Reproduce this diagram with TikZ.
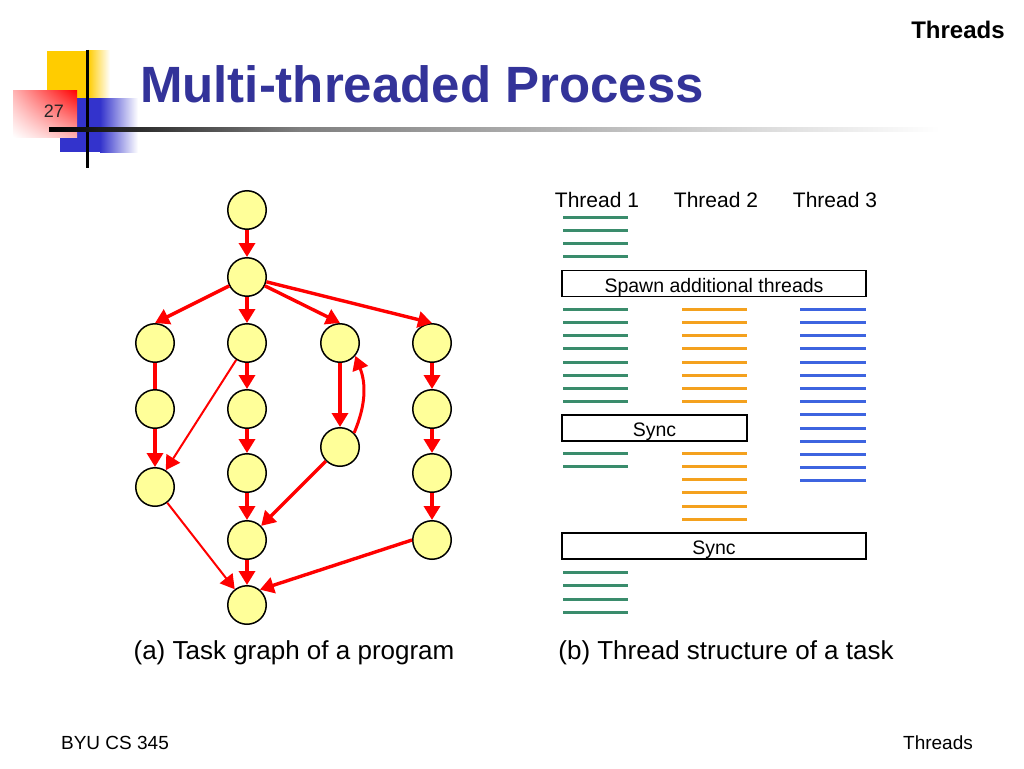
\documentclass[tikz,border=0pt]{standalone}
\usepackage{fontspec}
\setmainfont{Liberation Sans}
\usetikzlibrary{arrows.meta,positioning,shadings}
\definecolor{ttlblue}{HTML}{333399}
\definecolor{decyel}{HTML}{FFCC00}
\definecolor{decblue}{HTML}{3333CC}
\definecolor{taskyel}{HTML}{FFFF99}
\definecolor{depred}{HTML}{FF0000}
\definecolor{tgreen}{HTML}{3A8C6C}
\definecolor{torange}{HTML}{F4A11E}
\definecolor{tblue}{HTML}{3D64E0}
\newcommand{\fsz}[1]{\fontsize{#1}{#1}\selectfont}
\tikzset{
  task/.style={circle,draw=black,line width=1.5pt,fill=taskyel,minimum size=38.5pt,inner sep=0pt},
  dep/.style={-{Triangle[length=14pt,width=16pt]},line width=3.4pt,draw=depred},
  thindep/.style={dep,line width=2pt},
  plainred/.style={line width=3.4pt,draw=depred},
  tline/.style={line width=3pt},
  barbox/.style={draw=black,line width=1.5pt,inner sep=0pt,text height=21.5pt,text depth=4.5pt,
    font=\fsz{19.5}},
  hdr/.style={font=\fsz{21}},
  capt/.style={font=\fsz{26}},
  foot/.style={font=\fsz{19}},
}

\begin{document}
\begin{tikzpicture}[x=1pt,y=-1pt]
  \useasboundingbox (0,0) rectangle (1024,768);
  % slide decoration
  \fill[decyel] (47,51) rectangle (88,98);
  \shade[left color=decyel,right color=white] (88,51) rectangle (110,98);
  \fill[decblue] (60,98) rectangle (100,152);
  \shade[left color=decblue,right color=white] (100,98) rectangle (138,152);
  \shade[upper left=red!30!white,upper right=red,lower left=white,lower right=red!30!white]
    (13,90) rectangle (77,137);
  \draw[line width=3pt] (87,50) -- (87,168);
  \shade[left color=black,right color=black!50] (49,127) rectangle (300,131);
  \shade[left color=black!50,right color=white] (300,127) rectangle (940,131);
  \node[font=\fsz{18},text=black!85] (pgno) at (54,111) {27};
  \node[font=\bfseries\fsz{51},text=ttlblue] (title) at (422,84) {Multi-threaded Process};
  \node[font=\bfseries\fsz{24}] (sect) at (958,30) {Threads};
  \node[foot] (ftl) at (115,743) {BYU CS 345};
  \node[foot] (ftr) at (938,743) {Threads};

  % (a) task graph
  \foreach \nm/\x/\y in {top/247/210, fork/247/277,
      c1r1/155/343, c1r2/155/409, c1r3/155/487,
      c2r1/247/343, c2r2/247/409, c2r3/247/473, c2r4/247/540,
      c3r1/340/343, c3r2/340/447,
      c4r1/432/343, c4r2/432/409, c4r3/432/473, c4r4/432/540, join/247/605}
    \node[task] (\nm) at (\x,\y) {};
  \draw[dep] (top) -- (fork);
  \foreach \tg in {c1r1,c2r1,c3r1,c4r1}
    \draw[dep] (fork) -- (\tg.north);
  \draw[plainred] (c1r1) -- (c1r2);
  \draw[dep] (c1r2) -- (c1r3);
  \draw[thindep] (c2r1) -- (c1r3);
  \foreach \src/\tg in {c2r1/c2r2, c2r2/c2r3, c2r3/c2r4, c2r4/join, c3r1/c3r2,
      c4r1/c4r2, c4r2/c4r3, c4r3/c4r4}
    \draw[dep] (\src) -- (\tg);
  \draw[dep] (c3r2) -- (c2r4);
  \draw[dep,line width=3pt] (c3r2.45) to[bend right=22] (c3r1.-40);
  \draw[thindep] (c1r3) -- (join);
  \draw[dep] (c4r4.west) -- (join.50);
  \node[capt] (capa) at (294,653) {(a) Task graph of a program};

  % (b) thread structure
  \node[hdr] (th1) at (597,200) {Thread 1};
  \node[hdr] (th2) at (716,200) {Thread 2};
  \node[hdr] (th3) at (835,200) {Thread 3};
  \node[barbox,minimum width=304pt] (spawn) at (714,283.5) {Spawn additional threads};
  \node[barbox,minimum width=185pt] (sync1) at (654.5,428) {Sync};
  \node[barbox,minimum width=304pt] (sync2) at (714,546) {Sync};
  \foreach \k in {0,...,3}
    \draw[tline,tgreen] (563,217+13.2*\k) -- (628,217+13.2*\k);
  \foreach \k in {0,...,7}{
    \draw[tline,tgreen] (563,309.3+13.2*\k) -- (628,309.3+13.2*\k);
    \draw[tline,torange] (682,309.3+13.2*\k) -- (747,309.3+13.2*\k);
  }
  \foreach \k in {0,...,13}
    \draw[tline,tblue] (800,309.3+13.2*\k) -- (866,309.3+13.2*\k);
  \foreach \k in {0,1}
    \draw[tline,tgreen] (563,453.3+13.2*\k) -- (628,453.3+13.2*\k);
  \foreach \k in {0,...,5}
    \draw[tline,torange] (682,453.3+13.2*\k) -- (747,453.3+13.2*\k);
  \foreach \k in {0,...,3}
    \draw[tline,tgreen] (563,572.7+13.2*\k) -- (628,572.7+13.2*\k);
  \node[capt] (capb) at (726,653) {(b) Thread structure of a task};
\end{tikzpicture}
\end{document}
